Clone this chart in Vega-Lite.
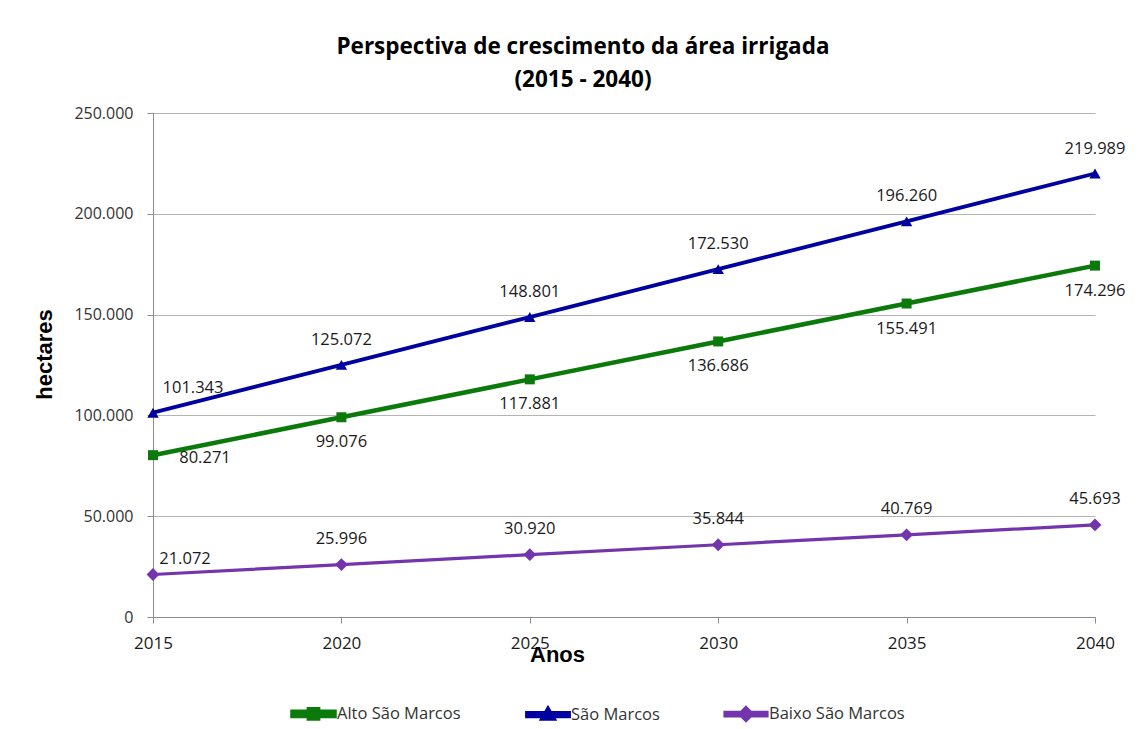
{
  "$schema": "https://vega.github.io/schema/vega-lite/v6.json",
  "width": 942,
  "height": 504,
  "autosize": {"type": "none"},
  "padding": {"left": 153, "top": 113, "right": 49, "bottom": 112},
  "background": "white",
  "title": {
    "text": ["Perspectiva de crescimento da área irrigada", "(2015 - 2040)"],
    "font": "Open Sans",
    "fontSize": 22.5,
    "fontWeight": "bold",
    "color": "#000000",
    "anchor": "middle",
    "dx": -41,
    "offset": 14,
    "lineHeight": 33
  },
  "data": {
    "values": [
      {"year": 2015, "series": "Alto São Marcos", "value": 80271},
      {"year": 2020, "series": "Alto São Marcos", "value": 99076},
      {"year": 2025, "series": "Alto São Marcos", "value": 117881},
      {"year": 2030, "series": "Alto São Marcos", "value": 136686},
      {"year": 2035, "series": "Alto São Marcos", "value": 155491},
      {"year": 2040, "series": "Alto São Marcos", "value": 174296},
      {"year": 2015, "series": "São Marcos", "value": 101343},
      {"year": 2020, "series": "São Marcos", "value": 125072},
      {"year": 2025, "series": "São Marcos", "value": 148801},
      {"year": 2030, "series": "São Marcos", "value": 172530},
      {"year": 2035, "series": "São Marcos", "value": 196260},
      {"year": 2040, "series": "São Marcos", "value": 219989},
      {"year": 2015, "series": "Baixo São Marcos", "value": 21072},
      {"year": 2020, "series": "Baixo São Marcos", "value": 25996},
      {"year": 2025, "series": "Baixo São Marcos", "value": 30920},
      {"year": 2030, "series": "Baixo São Marcos", "value": 35844},
      {"year": 2035, "series": "Baixo São Marcos", "value": 40769},
      {"year": 2040, "series": "Baixo São Marcos", "value": 45693}
    ]
  },
  "encoding": {
    "x": {
      "field": "year",
      "type": "quantitative",
      "scale": {"domain": [2015, 2040], "nice": false, "zero": false},
      "axis": {
        "title": "Anos",
        "values": [2015, 2020, 2025, 2030, 2035, 2040],
        "format": "d",
        "grid": false,
        "domainColor": "#8c8c8c",
        "tickColor": "#8c8c8c",
        "tickSize": 6,
        "labelPadding": 12,
        "labelFont": "Open Sans",
        "labelFontSize": 17,
        "labelColor": "#1a1a1a",
        "labelFlush": false,
        "titleFont": "Liberation Sans",
        "titleFontSize": 22,
        "titleFontWeight": "bold",
        "titleColor": "#000000",
        "titleX": 404,
        "titleY": 44,
        "titleBaseline": "alphabetic",
        "titleAnchor": "middle"
      }
    },
    "y": {
      "field": "value",
      "type": "quantitative",
      "scale": {"domain": [0, 250000], "nice": false},
      "axis": {
        "title": "hectares",
        "values": [0, 50000, 100000, 150000, 200000, 250000],
        "format": ",d",
        "grid": true,
        "gridColor": "#b4b4b4",
        "gridWidth": 1,
        "domainColor": "#8c8c8c",
        "tickColor": "#8c8c8c",
        "tickSize": 6,
        "labelPadding": 14,
        "labelFont": "Open Sans",
        "labelFontSize": 16,
        "labelColor": "#333333",
        "titleFont": "Liberation Sans",
        "titleFontSize": 22,
        "titleFontWeight": "bold",
        "titleColor": "#000000",
        "titleX": -102,
        "titleY": 241,
        "titleAngle": -90,
        "titleBaseline": "alphabetic",
        "titleAnchor": "middle"
      }
    }
  },
  "layer": [
    {
      "mark": {"type": "line"},
      "encoding": {
        "color": {
          "field": "series",
          "type": "nominal",
          "scale": {
            "domain": ["Alto São Marcos", "São Marcos", "Baixo São Marcos"],
            "range": ["#0b7a0b", "#0000a0", "#7335ad"]
          }
        },
        "strokeWidth": {
          "field": "series",
          "type": "nominal",
          "scale": {
            "domain": ["Alto São Marcos", "São Marcos", "Baixo São Marcos"],
            "range": [4.5, 3.2, 3.6]
          },
          "legend": null
        }
      }
    },
    {
      "transform": [{"filter": "datum.series === 'Alto São Marcos'"}],
      "mark": {"type": "point", "filled": true, "opacity": 1, "shape": "square", "size": 100, "color": "#0b7a0b"},
      "encoding": {}
    },
    {
      "transform": [{"filter": "datum.series === 'São Marcos'"}],
      "mark": {"type": "point", "filled": true, "opacity": 1, "shape": "triangle-up", "size": 130, "color": "#0000a0"},
      "encoding": {}
    },
    {
      "transform": [{"filter": "datum.series === 'Baixo São Marcos'"}],
      "mark": {"type": "point", "filled": true, "opacity": 1, "shape": "diamond", "size": 165, "color": "#7335ad"},
      "encoding": {}
    },
    {
      "mark": {"type": "point", "filled": true, "opacity": 0},
      "encoding": {
        "color": {
          "field": "series",
          "type": "nominal",
          "legend": {
            "title": null,
            "orient": "none",
            "direction": "horizontal",
            "legendX": 137,
            "legendY": 577,
            "symbolSize": 1764,
            "symbolOpacity": 1,
            "symbolStrokeWidth": 0,
            "labelFont": "Open Sans",
            "labelFontSize": 16.5,
            "labelColor": "#333333",
            "labelOffset": 0,
            "columnPadding": 58
          }
        },
        "shape": {
          "field": "series",
          "type": "nominal",
          "scale": {
            "domain": ["Alto São Marcos", "São Marcos", "Baixo São Marcos"],
            "range": [
              "M-1,-0.1H1V0.1H-1Z M-0.22,-0.22H0.22V0.22H-0.22Z",
              "M-1,-0.08H1V0.08H-1Z M0,-0.28L0.28,0.2H-0.28Z",
              "M-1,-0.085H1V0.085H-1Z M0,-0.31L0.31,0L0,0.31L-0.31,0Z"
            ]
          },
          "legend": {
            "title": null,
            "orient": "none",
            "direction": "horizontal",
            "legendX": 137,
            "legendY": 577,
            "symbolSize": 1764,
            "symbolOpacity": 1,
            "symbolStrokeWidth": 0,
            "labelFont": "Open Sans",
            "labelFontSize": 16.5,
            "labelColor": "#333333",
            "labelOffset": 0,
            "columnPadding": 58
          }
        }
      }
    },
    {
      "transform": [{"filter": "datum.series === 'São Marcos' && datum.year !== 2015"}],
      "mark": {"type": "text", "font": "Open Sans", "fontSize": 16.5, "color": "#1a1a1a", "dy": -25, "baseline": "middle"},
      "encoding": {"text": {"field": "value", "type": "quantitative", "format": ",d"}}
    },
    {
      "transform": [{"filter": "datum.series === 'São Marcos' && datum.year === 2015"}],
      "mark": {"type": "text", "font": "Open Sans", "fontSize": 16.5, "color": "#1a1a1a", "dx": 40, "dy": -25, "baseline": "middle"},
      "encoding": {"text": {"field": "value", "type": "quantitative", "format": ",d"}}
    },
    {
      "transform": [{"filter": "datum.series === 'Alto São Marcos' && datum.year !== 2015"}],
      "mark": {"type": "text", "font": "Open Sans", "fontSize": 16.5, "color": "#1a1a1a", "dy": 25, "baseline": "middle"},
      "encoding": {"text": {"field": "value", "type": "quantitative", "format": ",d"}}
    },
    {
      "transform": [{"filter": "datum.series === 'Alto São Marcos' && datum.year === 2015"}],
      "mark": {"type": "text", "font": "Open Sans", "fontSize": 16.5, "color": "#1a1a1a", "dx": 52, "dy": 3, "baseline": "middle"},
      "encoding": {"text": {"field": "value", "type": "quantitative", "format": ",d"}}
    },
    {
      "transform": [{"filter": "datum.series === 'Baixo São Marcos' && datum.year !== 2015"}],
      "mark": {"type": "text", "font": "Open Sans", "fontSize": 16.5, "color": "#1a1a1a", "dy": -26, "baseline": "middle"},
      "encoding": {"text": {"field": "value", "type": "quantitative", "format": ",d"}}
    },
    {
      "transform": [{"filter": "datum.series === 'Baixo São Marcos' && datum.year === 2015"}],
      "mark": {"type": "text", "font": "Open Sans", "fontSize": 16.5, "color": "#1a1a1a", "dx": 32, "dy": -16, "baseline": "middle"},
      "encoding": {"text": {"field": "value", "type": "quantitative", "format": ",d"}}
    }
  ],
  "config": {
    "locale": {
      "number": {"decimal": ",", "thousands": ".", "grouping": [3], "currency": ["R$", ""]}
    },
    "view": {"stroke": null}
  }
}
